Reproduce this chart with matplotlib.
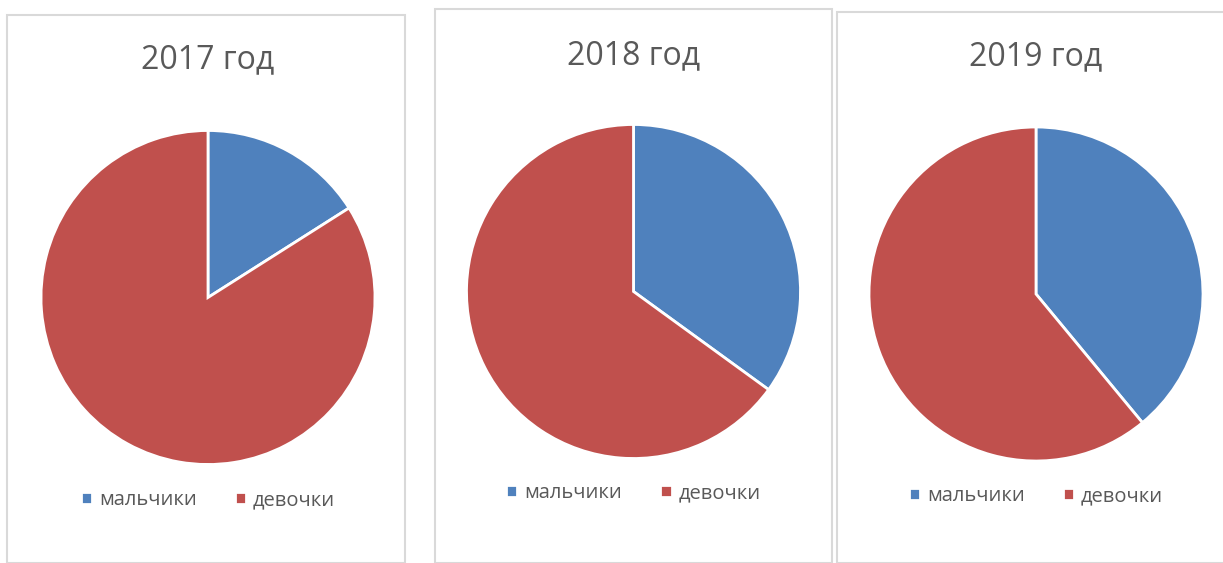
import matplotlib
matplotlib.use("Agg")
import matplotlib.pyplot as plt
from matplotlib.patches import Rectangle

plt.rcParams['font.family'] = ['Open Sans', 'DejaVu Sans']

# data (share of pupils, %)
years = ["2017 год", "2018 год", "2019 год"]
labels = ["мальчики", "девочки"]
boys = [16, 35, 39]
girls = [84, 65, 61]
colors = ["#4F81BD", "#C0504D"]

W, H = 1223, 563
fig = plt.figure(figsize=(W / 100, H / 100), dpi=100)

# panel frames (left, top, right) in pixels, pie centre / radius, title y, legend y
frames = [(7, 15, 405), (435, 9, 832), (837, 12, 1240)]
centres = [(208, 297.5), (633.5, 291.5), (1036, 294)]
radius = 167
title_y = [60, 56, 57]
legend_y = [500, 493, 496]

def fx(x):
    return x / W

def fy(y):
    return 1 - y / H

for i in range(3):
    l, t, r = frames[i]
    fig.patches.append(Rectangle((fx(l), 0), fx(r) - fx(l), fy(t), transform=fig.transFigure,
                                 fill=False, edgecolor="#D9D9D9", linewidth=1.5))
    cx, cy = centres[i]
    ax = fig.add_axes([fx(cx - radius), fy(cy + radius), 2 * radius / W, 2 * radius / H])
    wedges, _ = ax.pie([boys[i], girls[i]], colors=colors, startangle=90, counterclock=False,
                       radius=1, wedgeprops=dict(edgecolor="white", linewidth=2))
    ax.set_xlim(-1, 1)
    ax.set_ylim(-1, 1)
    ax.set_aspect("auto")
    ax.axis("off")

    fig.text(fx(cx), fy(title_y[i]), years[i], ha="center", va="center",
             fontsize=23, color="#595959")
    fig.legend(wedges, labels, loc="center", bbox_to_anchor=(fx(cx), fy(legend_y[i])),
               ncol=2, frameon=False, fontsize=14.5, labelcolor="#595959",
               handlelength=0.55, handleheight=0.55, handletextpad=0.35, columnspacing=1.9)

fig.savefig("out.png", dpi=100)
